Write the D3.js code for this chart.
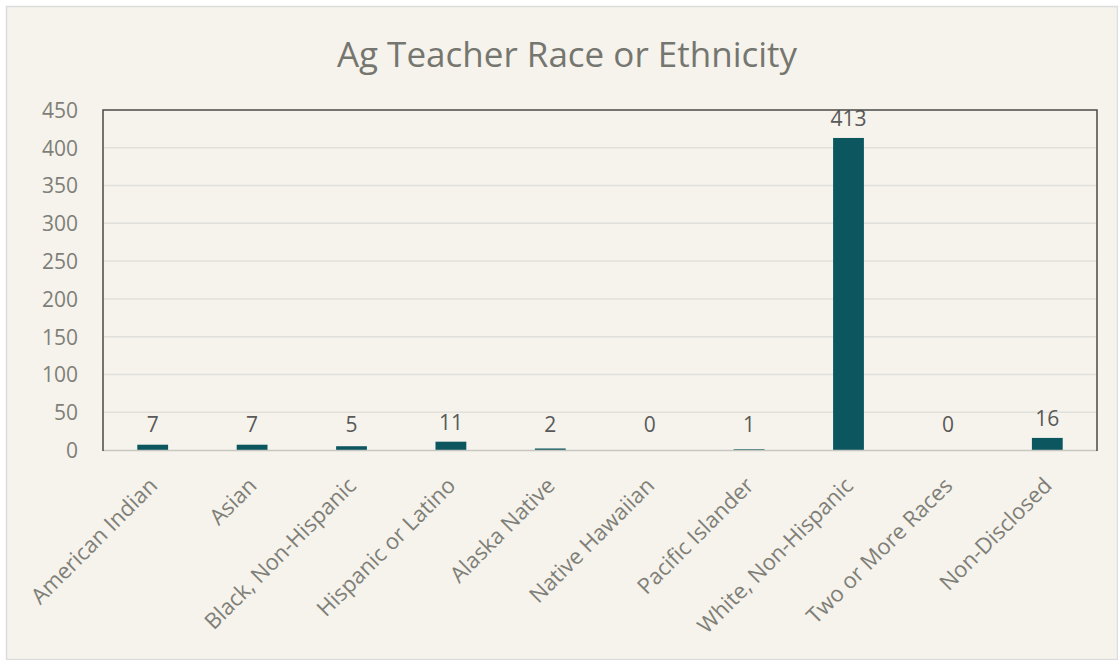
<!DOCTYPE html>
<html><head><meta charset="utf-8">
<script src="https://cdn.jsdelivr.net/npm/d3@7"></script>
<style>
html,body{margin:0;padding:0;background:#ffffff;}
svg{display:block;font-family:"Open Sans","Noto Sans",sans-serif;}
</style></head>
<body>
<svg id="chart" width="1118" height="660"></svg>
<script>
const title = "Ag Teacher Race or Ethnicity";
const categories = ["American Indian","Asian","Black, Non-Hispanic","Hispanic or Latino","Alaska Native","Native Hawaiian","Pacific Islander","White, Non-Hispanic","Two or More Races","Non-Disclosed"];
const values = [7,7,5,11,2,0,1,413,0,16];
const yTicks = [0,50,100,150,200,250,300,350,400,450];

const svg = d3.select("#chart");
const W = 1118, H = 660;
const m = {left:103, right:1097, top:110, bottom:450};

svg.append("rect").attr("x",6.5).attr("y",6.5).attr("width",W-7).attr("height",H-7)
  .attr("fill","#f5f3ec").attr("stroke","#dcdcdc").attr("stroke-width",1.5);

svg.append("text").attr("x",567).attr("y",67).attr("text-anchor","middle")
  .attr("font-size",35).attr("fill","#767670").text(title);

const x = d3.scaleBand().domain(categories).range([m.left,m.right]).paddingInner(0.69).paddingOuter(0.345);
const y = d3.scaleLinear().domain([0,450]).range([m.bottom,m.top]);

// gridlines
svg.append("g").selectAll("line").data(yTicks.filter(d=>d>0 && d<450)).join("line")
  .attr("x1",m.left).attr("x2",m.right).attr("y1",d=>y(d)).attr("y2",d=>y(d))
  .attr("stroke","#e2e0da").attr("stroke-width",1.5);

// y axis labels
const yAxis = d3.axisLeft(y).tickValues(yTicks).tickSize(0).tickPadding(0);
const gy = svg.append("g").attr("transform",`translate(${m.left-25},0)`).call(yAxis);
gy.select(".domain").remove();
gy.selectAll("text").attr("font-size",21).attr("fill","#7f7f78").attr("font-family","'Open Sans','Noto Sans',sans-serif").attr("dy","0.35em");

// bars
svg.append("g").selectAll("rect").data(values).join("rect")
  .attr("x",(d,i)=>x(categories[i])).attr("width",x.bandwidth())
  .attr("y",d=>y(d)).attr("height",d=>y(0)-y(d)).attr("fill","#0c5660");

// data labels
svg.append("g").selectAll("text").data(values).join("text")
  .attr("x",(d,i)=>x(categories[i])+x.bandwidth()/2).attr("y",d=>Math.min(y(d)-12, y(0)-18))
  .attr("text-anchor","middle").attr("font-size",21).attr("fill","#595959").text(d=>d);

// x axis line (bottom)
svg.append("line").attr("x1",m.left).attr("x2",m.right).attr("y1",y(0)+0.5).attr("y2",y(0)+0.5)
  .attr("stroke","#c8c6c0").attr("stroke-width",1.5);
// plot borders (left, top, right)
svg.append("path").attr("d",`M${m.left},${m.bottom+1}V${m.top}H${m.right}V${m.bottom+1}`)
  .attr("fill","none").attr("stroke","#4a4a46").attr("stroke-width",1.5);

// x labels
const xAxis = d3.axisBottom(x).tickSize(0).tickPadding(0);
const gx = svg.append("g").attr("transform",`translate(0,${m.bottom})`).call(xAxis);
gx.select(".domain").remove();
gx.selectAll("text").attr("font-size",22).attr("fill","#7f7f78")
  .attr("font-family","'Open Sans','Noto Sans',sans-serif")
  .attr("text-anchor","end").attr("dy",0).attr("y",0)
  .attr("transform","translate(6,37) rotate(-45)");
</script>
</body></html>
